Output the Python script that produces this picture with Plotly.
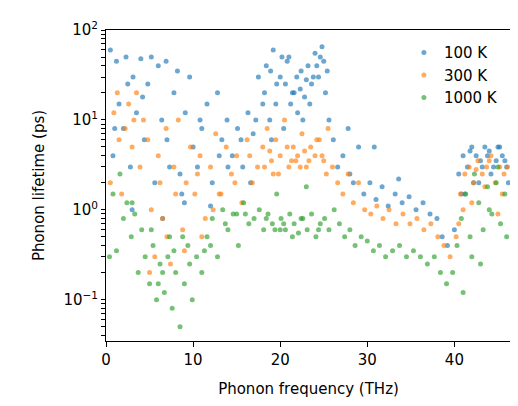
import plotly.graph_objects as go

# phonon frequency (THz) and lifetime (ps)
freq_100 = [0.5, 0.8, 1.2, 1.5, 2.0, 2.3, 2.8, 3.1, 3.5, 4.0, 4.4, 4.8, 5.2, 5.6, 6.0, 6.4, 6.9, 7.3, 7.8, 8.2,
            8.7, 9.1, 9.6, 10.0, 10.5, 11.0, 11.6, 12.2, 12.8, 13.3, 13.9, 14.5, 15.1, 15.7, 16.3, 16.9, 17.5, 18.0,
            18.4, 18.8, 19.2, 19.6, 20.0, 20.4, 20.8, 21.2, 21.6, 22.0, 22.4, 22.8, 23.2, 23.6, 24.0, 24.4, 24.8,
            25.2, 25.6, 26.1, 26.6, 27.2, 27.8, 28.4, 29.0, 29.6, 30.3, 31.0, 31.7, 32.4, 33.2, 34.0, 34.8, 35.6,
            36.4, 37.2, 38.0, 38.6, 39.2, 40.0, 40.5, 41.0, 41.5, 42.0, 42.5, 43.0, 43.5, 44.0, 44.5, 45.0, 45.5,
            46.0, 19.0, 20.2, 21.4, 22.6, 23.8, 25.0, 3.0, 6.5, 9.0, 12.0, 14.0, 41.2, 42.8, 44.2, 45.8,
            18.2, 18.9, 19.5, 20.6, 21.0, 21.9, 22.3, 23.0, 23.4, 24.2, 24.6, 25.4, 1.0, 2.5, 4.2, 7.0, 8.5,
            10.8, 13.0, 15.5, 16.6, 17.2, 40.8, 41.8, 42.2, 43.2, 43.8, 44.8, 45.2, 46.2, 28.0, 30.8, 33.6]
life_100 = [60, 4, 45, 15, 8, 50, 3, 30, 12, 48, 6, 25, 50, 2, 40, 10, 45, 3, 20, 35,
            1.5, 12, 30, 5, 3, 8, 15, 2, 20, 6, 10, 4, 8, 3, 12, 7, 30, 15,
            40, 10, 60, 25, 30, 8, 45, 15, 20, 12, 35, 18, 40, 25, 55, 30, 65,
            20, 10, 6, 3, 4, 8, 2, 5, 1.5, 2, 1.3, 1.8, 1.1, 1.5, 1.2, 1.4, 1.0,
            1.2, 0.9, 0.8, 0.5, 0.4, 0.6, 2.5, 4, 3, 5, 4, 3.5, 5, 4.5, 3, 5, 4,
            3, 6, 50, 20, 10, 30, 45, 1, 0.8, 1.2, 1.1, 3, 1.5, 2, 2.5, 3.5,
            20, 35, 15, 25, 50, 30, 22, 28, 15, 40, 50, 35, 8, 25, 18, 6, 2.5,
            10, 4, 6, 2, 10, 1.5, 4.5, 2, 3, 4, 3.5, 5, 2, 2.5, 5, 2.2]

freq_300 = [0.5, 0.9, 1.3, 1.8, 2.2, 2.6, 3.0, 3.5, 3.9, 4.3, 4.8, 5.2, 5.6, 6.0, 6.5, 6.9, 7.4, 7.8, 8.3,
            8.8, 9.2, 9.7, 10.2, 10.8, 11.4, 12.0, 12.6, 13.2, 13.8, 14.4, 15.0, 15.6, 16.2, 16.8, 17.4, 18.0,
            18.5, 19.0, 19.5, 20.0, 20.5, 21.0, 21.5, 22.0, 22.5, 23.0, 23.5, 24.0, 24.5, 25.0, 25.5, 26.0, 26.6,
            27.2, 27.8, 28.4, 29.0, 29.7, 30.4, 31.1, 31.8, 32.5, 33.3, 34.1, 34.9, 35.7, 36.5, 37.3, 38.1, 38.8,
            39.5, 40.2, 40.7, 41.2, 41.7, 42.2, 42.7, 43.2, 43.7, 44.2, 44.7, 45.2, 45.7, 46.1, 5.0, 7.0, 9.0,
            11.0, 13.0, 19.2, 21.8, 24.2, 40.5, 42.0, 43.5, 45.0,
            18.2, 18.8, 19.8, 20.8, 21.3, 22.3, 22.8, 23.3, 24.8, 25.3, 1.5, 3.2, 6.2, 8.0, 10.5, 12.3,
            14.8, 16.5, 41.0, 42.5, 44.0, 45.5]
life_300 = [2, 12, 20, 1.5, 8, 15, 5, 20, 3, 10, 6, 1, 0.3, 4, 0.8, 8, 0.25, 3, 10,
            0.6, 2, 5, 1.5, 4, 0.8, 3, 7, 1.5, 5, 2.5, 4, 1.2, 6, 2, 3, 5,
            8, 3.5, 6, 4, 10, 3, 5, 4, 7, 3, 5, 4, 6, 3.5, 8, 3, 2, 1.5, 2.5, 1.2,
            2, 1, 0.9, 1.1, 0.8, 1.0, 0.7, 0.9, 0.7, 0.8, 0.6, 0.7, 0.5, 0.4,
            0.3, 0.5, 1.5, 2.5, 3, 2, 3.5, 2.5, 3, 4, 2, 3, 2.5, 3, 0.2, 0.5, 0.35,
            0.5, 1.5, 2.5, 3.5, 6, 0.7, 1.2, 1.8, 0.9,
            3, 4.5, 2.5, 5, 3.5, 3, 4.5, 3.5, 4, 2.5, 6, 10, 2, 1.5, 2.5, 1,
            2, 4, 1, 2.8, 3.5, 1.5]

freq_1000 = [0.4, 0.8, 1.2, 1.6, 2.0, 2.4, 2.9, 3.3, 3.7, 4.1, 4.5, 5.0, 5.4, 5.8, 6.2, 6.7, 7.1, 7.6,
             8.0, 8.5, 9.0, 9.4, 9.9, 10.4, 11.0, 11.6, 12.2, 12.8, 13.4, 14.0, 14.6, 15.2, 15.8, 16.4, 17.0,
             17.6, 18.1, 18.6, 19.1, 19.6, 20.1, 20.6, 21.1, 21.6, 22.1, 22.6, 23.1, 23.6, 24.1, 24.6, 25.1,
             25.6, 26.2, 26.8, 27.4, 28.0, 28.6, 29.3, 30.0, 30.7, 31.4, 32.1, 32.9, 33.7, 34.5, 35.3, 36.1,
             36.9, 37.7, 38.4, 39.1, 39.8, 40.3, 40.8, 41.3, 41.8, 42.3, 42.8, 43.3, 43.8, 44.3, 44.8, 45.3,
             45.8, 6.0, 7.8, 8.8, 3.0, 12.0, 15.0, 20.0, 23.0, 41.0, 43.0, 45.0,
             18.4, 19.4, 20.4, 21.4, 22.4, 24.4, 5.2, 6.5, 7.3, 9.6, 11.3, 13.7, 16.0, 42.0, 44.0, 46.0]
life_1000 = [0.3, 1.5, 0.35, 2.5, 0.8, 1.2, 0.5, 0.9, 0.2, 0.6, 0.3, 0.15, 0.4, 0.1, 0.25, 0.12, 0.3, 0.08,
             0.2, 0.05, 0.15, 0.4, 0.1, 0.3, 0.2, 0.5, 0.8, 0.3, 1.0, 0.6, 0.9, 0.4, 1.2, 0.7, 0.8,
             1.0, 0.6, 0.9, 0.7, 1.5, 0.8, 0.6, 0.9, 0.7, 0.55, 0.8, 0.6, 0.9, 0.5, 0.7, 0.8,
             0.6, 1.0, 0.7, 0.5, 0.6, 0.4, 0.5, 0.45, 0.35, 0.4, 0.3, 0.35, 0.4, 0.3, 0.35, 0.3,
             0.25, 0.3, 0.2, 0.15, 0.2, 0.4, 0.8, 1.5, 0.5, 2.5, 1.2, 0.6, 1.8, 0.9, 2, 0.7,
             1.5, 0.15, 0.35, 0.5, 1.2, 0.4, 0.9, 0.6, 1.8, 0.12, 0.25, 3,
             0.8, 0.6, 0.7, 0.5, 0.8, 0.6, 0.6, 0.2, 0.5, 0.25, 0.35, 0.7, 0.9, 0.3, 1.0, 0.5]

series = [
    ("100 K", freq_100, life_100, "#1f77b4"),
    ("300 K", freq_300, life_300, "#ff7f0e"),
    ("1000 K", freq_1000, life_1000, "#2ca02c"),
]

fig = go.Figure()
for name, x, y, color in series:
    fig.add_trace(
        go.Scatter(
            x=x, y=y, mode="markers", name=name,
            marker=dict(size=5, color=color, opacity=0.65, line=dict(width=0)),
        )
    )

axis_common = dict(
    showline=True, linecolor="black", linewidth=1, mirror=True,
    ticks="outside", tickcolor="black", showgrid=False, zeroline=False,
    tickfont=dict(size=15, color="black"),
)
fig.update_xaxes(
    title_text="Phonon frequency (THz)", title_font=dict(size=15, color="black"),
    range=[0, 46.5], tickvals=[0, 10, 20, 30, 40], ticklen=5, **axis_common,
)

# log ticks: labelled decades plus unlabelled minor positions
y_ticks = []
y_text = []
for decade in [0.01, 0.1, 1, 10]:
    for m in range(1, 10):
        y_ticks.append(decade * m)
        y_text.append("")
y_ticks.append(100)
y_text.append("")
labels = {0.1: "10<sup>−1</sup>", 1: "10<sup>0</sup>", 10: "10<sup>1</sup>", 100: "10<sup>2</sup>"}
for i, v in enumerate(y_ticks):
    for k, lab in labels.items():
        if abs(v - k) < 1e-9:
            y_text[i] = lab

fig.update_yaxes(
    title_text="Phonon lifetime (ps)", title_font=dict(size=15, color="black"),
    type="log", range=[-1.46, 2],
    tickvals=y_ticks, ticktext=y_text, ticklen=4,
    **axis_common,
)
fig.update_layout(
    width=518, height=406,
    margin=dict(l=98, r=15, t=22, b=73),
    plot_bgcolor="white", paper_bgcolor="white",
    font=dict(family="DejaVu Sans", color="black"),
    legend=dict(x=0.98, y=0.98, xanchor="right", yanchor="top",
                bgcolor="rgba(255,255,255,0)", font=dict(size=15)),
)

fig.write_html("out.html")
